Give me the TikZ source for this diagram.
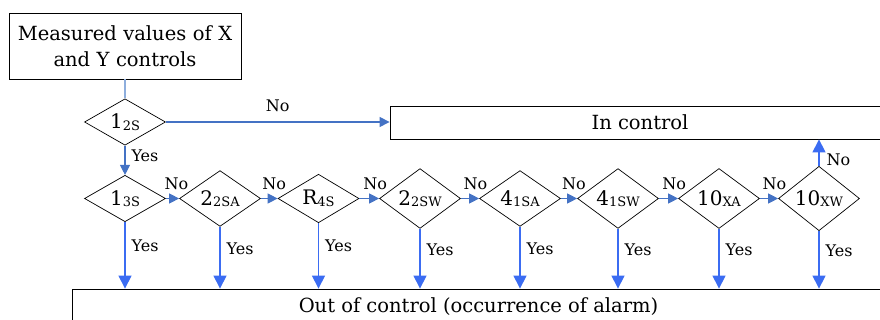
\documentclass[tikz,border=0pt]{standalone}
\usepackage{fontspec}
\setmainfont{DejaVu Serif}
\usepackage{tikz}
\usetikzlibrary{arrows.meta, calc, positioning, shapes.geometric}
\usepackage{xcolor}

\definecolor{noblue}{HTML}{4472C4}
\definecolor{yesblue}{HTML}{3B6CF2}
\definecolor{linkblue}{HTML}{8EAEDD}

% 下标: 小号字, 稍微下沉
\newcommand{\lowidx}[1]{\raisebox{-1.5pt}{\fontsize{13}{13}\selectfont #1}}

\begin{document}
\begin{tikzpicture}[x=1pt, y=-1pt,
    box/.style={draw, line width=0.8pt, inner sep=0pt, font=\fontsize{19.5}{26}\selectfont},
    judge/.style={draw, diamond, line width=0.7pt, minimum width=81pt, minimum height=46pt,
                  inner sep=0pt, font=\fontsize{20}{20}\selectfont},
    lbl/.style={text=black, font=\fontsize{16}{16}\selectfont, inner sep=2pt},
    noarr/.style={-{Triangle[length=10pt, width=10pt]}, line width=1.1pt, noblue},
    yesarr/.style={-{Triangle[length=13pt, width=13pt]}, line width=1.2pt, yesblue}]
    \useasboundingbox (0, 0) rectangle (880, 320);

    % 起始框
    \node[box, text width=230pt, align=center, minimum width=232pt, minimum height=66pt]
        (start) at (125, 46) {Measured values of X\\and Y controls};

    % 第一个判断
    \node[judge] (c0) at (125, 122) {1\lowidx{2S}};
    \node[box, minimum width=500pt, minimum height=33pt] (inctrl) at (640, 122.5) {In control};

    % 判断链
    \node[judge] (c1) at (125, 198.5) {1\lowidx{3S}};
    \node[judge] (c2) at (220, 198.5) {2\lowidx{2SA}};
    \node[judge] (c3) at (318.5, 198.5) {R\lowidx{4S}};
    \node[judge] (c4) at (420, 198.5) {2\lowidx{2SW}};
    \node[judge] (c5) at (520, 198.5) {4\lowidx{1SA}};
    \node[judge] (c6) at (618, 198.5) {4\lowidx{1SW}};
    \node[judge] (c7) at (719, 198.5) {10\lowidx{XA}};
    \node[judge] (c8) at (819, 198.5) {10\lowidx{XW}};

    % 报警框
    \node[box, minimum width=813pt, minimum height=37pt, text height=13pt, text depth=4pt]
        (outctrl) at (478.5, 307.5) {Out of control (occurrence of alarm)};

    % 连线
    \draw[line width=1.1pt, linkblue] (start.south) -- (c0.north);
    \draw[noarr] (c0.east) -- (c0.east -| inctrl.west) node[lbl, midway, above=8pt] {No};
    \draw[noarr] (c0.south) -- (c1.north) node[lbl, pos=0.35, right=4pt] {Yes};

    \draw[noarr] (c1.east) -- (c2.west) node[lbl, pos=0.8, above=6.5pt] {No};
    \draw[noarr] (c2.east) -- (c3.west) node[lbl, pos=0.8, above=6.5pt] {No};
    \draw[noarr] (c3.east) -- (c4.west) node[lbl, pos=0.8, above=6.5pt] {No};
    \draw[noarr] (c4.east) -- (c5.west) node[lbl, pos=0.8, above=6.5pt] {No};
    \draw[noarr] (c5.east) -- (c6.west) node[lbl, pos=0.8, above=6.5pt] {No};
    \draw[noarr] (c6.east) -- (c7.west) node[lbl, pos=0.8, above=6.5pt] {No};
    \draw[noarr] (c7.east) -- (c8.west) node[lbl, pos=0.8, above=6.5pt] {No};

    \draw[yesarr] (c8.north) -- (c8.north |- inctrl.south) node[lbl, pos=0.25, right=5pt] {No};

    \draw[yesarr] (c1.south) -- (c1.south |- outctrl.north) node[lbl, pos=0.35, right=4pt] {Yes};
    \draw[yesarr] (c2.south) -- (c2.south |- outctrl.north) node[lbl, pos=0.35, right=4pt] {Yes};
    \draw[yesarr] (c3.south) -- (c3.south |- outctrl.north) node[lbl, pos=0.35, right=4pt] {Yes};
    \draw[yesarr] (c4.south) -- (c4.south |- outctrl.north) node[lbl, pos=0.35, right=4pt] {Yes};
    \draw[yesarr] (c5.south) -- (c5.south |- outctrl.north) node[lbl, pos=0.35, right=4pt] {Yes};
    \draw[yesarr] (c6.south) -- (c6.south |- outctrl.north) node[lbl, pos=0.35, right=4pt] {Yes};
    \draw[yesarr] (c7.south) -- (c7.south |- outctrl.north) node[lbl, pos=0.35, right=4pt] {Yes};
    \draw[yesarr] (c8.south) -- (c8.south |- outctrl.north) node[lbl, pos=0.35, right=4pt] {Yes};
\end{tikzpicture}
\end{document}
